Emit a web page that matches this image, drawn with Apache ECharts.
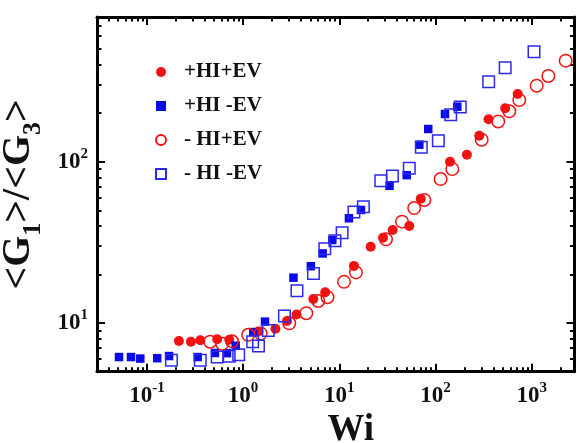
<!DOCTYPE html>
<html>
<head>
<meta charset="utf-8">
<script src="https://cdn.jsdelivr.net/npm/echarts@6/dist/echarts.min.js"></script>
<style>html,body{margin:0;padding:0;background:#fff}#c{width:577px;height:443px}</style>
</head>
<body>
<div id="c"></div>
<script>
// ---- data (Wi, <G1>/<G3>) ----
const SERIES_NAMES = ['+HI+EV', '+HI -EV', '- HI+EV', '- HI -EV'];

const WI_PHI_PEV = [0.215,0.287,0.359,0.538,0.719,1.446,2.17,2.86,3.59,5.37,7.14,14.2,21.2,28.5,35.9,53.4,70.3,141.5,212,285,356,530,715];
const G_PHI_PEV  = [7.73,7.66,7.82,7.92,7.88,8.86,9.22,10.3,11.3,14.1,15.5,22.6,29.7,33.8,37.7,39.9,58.9,100,110.5,144.7,183.4,214.3,262.9];

const WI_PHI_MEV = [0.0513,0.0684,0.0854,0.128,0.170,0.337,0.510,0.680,0.838,1.277,1.69,3.34,5.06,6.72,8.46,12.6,16.8,33.3,50.2,67.9,84.1,125.5,168.5];
const G_PHI_MEV  = [6.15,6.15,6.02,6.05,6.24,6.15,6.52,6.50,7.23,8.79,10.2,19.1,22.5,27.0,32.7,44.6,50.2,70.9,82.5,127.5,159.5,197.6,219.3];

const WI_MHI_PEV = [0.455,0.606,0.767,1.13,1.524,3.02,4.54,6.05,7.54,11.2,14.9,30.6,44.9,60.1,76.5,113,149.5,302,449,585,743,1127,1488,2256];
const G_MHI_PEV  = [7.66,7.43,7.70,8.45,8.61,9.96,11.5,13.7,14.45,18.0,20.6,33.0,42.5,51.6,57.9,78.1,90.1,136.9,177.6,205.3,241.3,296,340,423];

const WI_MHI_MEV = [0.180,0.359,0.538,0.717,0.900,1.258,1.446,1.83,2.69,3.63,5.39,7.07,9.02,10.7,14.2,17.8,27.0,35.7,53.4,71.2,107,144,181,357,530,1057];
const G_MHI_MEV  = [5.88,5.88,6.15,6.22,6.35,7.66,7.20,8.99,11.05,15.85,20.3,28.9,32.4,36.3,48.8,52.6,76.3,81.5,91.0,122.8,135,195.6,218.3,313,383,481];

// axis ranges and tick labels (real values)
const X_RANGE = [0.0303, 2786];
const Y_RANGE = [4.99, 789];
const X_TICKS = [0.1, 1, 10, 100, 1000];
const Y_TICKS = [10, 100];

// ---- build ----
const L = Math.log10;
function minorTicks(range) {
  const out = [];
  for (let n = -3; n <= 4; n++) for (let k = 2; k <= 9; k++) {
    const v = k * Math.pow(10, n);
    if (v > range[0] && v < range[1]) out.push(L(v));
  }
  return out;
}
function pts(xs, ys) { return xs.map((x, i) => [L(x), L(ys[i])]); }

const FONT = 'Liberation Serif';
const RED = '#f21212';
const BLUE = '#0a0ae6';
const labelRich = {
  b: { fontFamily: FONT, fontWeight: 'bold', fontSize: 23, color: '#111', lineHeight: 30 },
  s: { fontFamily: FONT, fontWeight: 'bold', fontSize: 15, color: '#111', lineHeight: 15, verticalAlign: 'top' }
};
function expFmt(v) {
  const e = Math.round(v);
  return '{b|10}{s|' + (e < 0 ? '-' + (-e) : e) + '}';
}
const xMin = L(X_RANGE[0]), xMax = L(X_RANGE[1]);
const yMin = L(Y_RANGE[0]), yMax = L(Y_RANGE[1]);
const xMajor = X_TICKS.map(L), yMajor = Y_TICKS.map(L);
const xMinor = minorTicks(X_RANGE), yMinor = minorTicks(Y_RANGE);

function mkAxis(kind, pos, major, showLine, withLabels) {
  const isX = kind === 'x';
  const ax = {
    type: 'value', position: pos,
    min: isX ? xMin : yMin, max: isX ? xMax : yMax,
    splitLine: { show: false },
    axisLine: { show: showLine, onZero: false, lineStyle: { color: '#000', width: 3 } },
    axisTick: { show: true, inside: true, customValues: major ? (isX ? xMajor : yMajor) : (isX ? xMinor : yMinor),
                length: major ? 8 : 4.5, lineStyle: { color: '#000', width: 2 } },
    axisLabel: { show: false }
  };
  if (withLabels) {
    ax.axisLabel = { show: true, customValues: isX ? xMajor : yMajor, formatter: expFmt, rich: labelRich, margin: 9 };
  }
  return ax;
}

const xAxes = [mkAxis('x','bottom',true,true,true), mkAxis('x','bottom',false,false,false),
               mkAxis('x','top',true,true,false), mkAxis('x','top',false,false,false)];
const yAxes = [mkAxis('y','left',true,true,true), mkAxis('y','left',false,false,false),
               mkAxis('y','right',true,true,false), mkAxis('y','right',false,false,false)];

xAxes[0].name = 'Wi';
xAxes[0].nameLocation = 'middle';
xAxes[0].nameGap = 39;
xAxes[0].nameTextStyle = { fontFamily: FONT, fontWeight: 'bold', fontSize: 37, color: '#111', padding: [0, 0, 0, 30] };

yAxes[0].name = '{m|<G}{sub|1}{m|>/<G}{sub|3}{m|>}';
yAxes[0].nameLocation = 'middle';
yAxes[0].nameGap = 40;
yAxes[0].nameTextStyle = { rich: {
  m: { fontFamily: FONT, fontWeight: 'bold', fontSize: 40, color: '#111', lineHeight: 56 },
  sub: { fontFamily: FONT, fontWeight: 'bold', fontSize: 26, color: '#111', lineHeight: 26, verticalAlign: 'bottom' }
} };

const open = c => ({ color: 'rgba(255,255,255,0)', borderColor: c, borderWidth: 1.5, opacity: 1 });

const option = {
  animation: false,
  backgroundColor: '#fff',
  grid: { left: 97, right: 2.5, top: 17, bottom: 71.3, containLabel: false, outerBoundsMode: 'none' },
  xAxis: xAxes,
  yAxis: yAxes,
  legend: {
    orient: 'vertical', left: 155, top: 61, itemGap: 12, padding: 0,
    itemWidth: 10, itemHeight: 10,
    textStyle: { fontFamily: FONT, fontWeight: 'bold', fontSize: 21, color: '#111', lineHeight: 22, padding: [0,0,0,13] },
    data: SERIES_NAMES
  },
  series: [
    { name: SERIES_NAMES[0], type: 'scatter', symbol: 'circle', symbolSize: 10,
      itemStyle: { color: RED, opacity: 1 }, data: pts(WI_PHI_PEV, G_PHI_PEV) },
    { name: SERIES_NAMES[1], type: 'scatter', symbol: 'rect', symbolSize: 8.5,
      itemStyle: { color: BLUE, opacity: 1 }, data: pts(WI_PHI_MEV, G_PHI_MEV) },
    { name: SERIES_NAMES[2], type: 'scatter', symbol: 'circle', symbolSize: 12.5,
      itemStyle: open(RED), data: pts(WI_MHI_PEV, G_MHI_PEV) },
    { name: SERIES_NAMES[3], type: 'scatter', symbol: 'rect', symbolSize: 11.5,
      itemStyle: open('#2a2aee'), data: pts(WI_MHI_MEV, G_MHI_MEV) }
  ]
};
const chart = echarts.init(document.getElementById('c'), null, { renderer: 'canvas' });
chart.setOption(option);
</script>
</body>
</html>
